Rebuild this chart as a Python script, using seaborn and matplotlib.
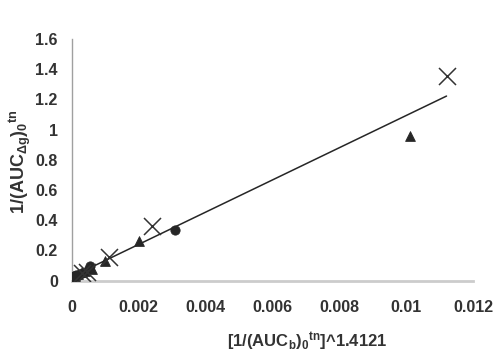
import numpy as np
import pandas as pd
import seaborn as sns
import matplotlib.pyplot as plt

# circles
circ_x = [0.00003, 0.00008, 0.00012, 0.0002, 0.0003, 0.00055, 0.0031]
circ_y = [0.025, 0.03, 0.035, 0.04, 0.05, 0.10, 0.335]
# triangles
tri_x = [0.0001, 0.0002, 0.0003, 0.0004, 0.0006, 0.001, 0.002, 0.0101]
tri_y = [0.03, 0.045, 0.055, 0.065, 0.08, 0.13, 0.265, 0.955]
# crosses
crs_x = [0.0003, 0.00045, 0.0011, 0.0024, 0.0112]
crs_y = [0.05, 0.06, 0.155, 0.36, 1.355]
# trend line
trend_x = [0.00003, 0.0112]
trend_y = [0.03, 1.222]

xticks = [0, 0.002, 0.004, 0.006, 0.008, 0.01, 0.012]
xlabels = ["0", "0.002", "0.004", "0.006", "0.008", "0.01", "0.012"]
yticks = [0, 0.2, 0.4, 0.6, 0.8, 1, 1.2, 1.4, 1.6]
ylabels = ["0", "0.2", "0.4", "0.6", "0.8", "1", "1.2", "1.4", "1.6"]

sns.set_style("white")
plt.rcParams['font.family'] = ['Liberation Sans', 'DejaVu Sans']
plt.rcParams['mathtext.default'] = 'regular'

fig = plt.figure(figsize=(5, 3.54), dpi=100)
ax = fig.add_axes([0.1434, 0.207, 0.8032, 0.683])

dark = "#262626"
trend = pd.DataFrame({"x": trend_x, "y": trend_y})
sns.lineplot(data=trend, x="x", y="y", color=dark, lw=1.1, ax=ax)

sns.scatterplot(x=circ_x, y=circ_y, marker="o", s=45, color=dark,
                edgecolor=dark, ax=ax, zorder=3)
sns.scatterplot(x=tri_x, y=tri_y, marker="^", s=50, color=dark,
                edgecolor=dark, ax=ax, zorder=3)
sns.scatterplot(x=crs_x, y=crs_y, marker="x", s=150, color="#333333",
                linewidth=1.1, ax=ax, zorder=3)

ax.set_xlim(0, 0.012)
ax.set_ylim(0, 1.6)
ax.set_xticks(xticks)
ax.set_xticklabels(xlabels)
ax.set_yticks(yticks)
ax.set_yticklabels(ylabels)
ax.tick_params(axis="both", direction="out", length=4, width=1,
               color="#a0a0a0", labelsize=11.5, labelcolor="#333333")
ax.tick_params(axis="x", pad=10)
ax.tick_params(axis="y", pad=6)
for lab in ax.get_xticklabels() + ax.get_yticklabels():
    lab.set_fontweight("bold")

for s in ["top", "right"]:
    ax.spines[s].set_visible(False)
ax.spines["left"].set_color("#a0a0a0")
ax.spines["left"].set_linewidth(1)
ax.spines["bottom"].set_color("#cccccc")
ax.spines["bottom"].set_linewidth(2)

ax.set_xlabel(r"[1/(AUC$_b$)$_0$$^{tn}$]^1.4121", fontsize=12,
              fontweight="bold", color="#333333")
ax.set_ylabel(r"1/(AUC$_{\Delta g}$)$_0$$^{tn}$", fontsize=13,
              fontweight="bold", color="#333333")
ax.xaxis.set_label_coords(0.586, -0.205)
ax.yaxis.set_label_coords(-0.097, 0.49)

fig.savefig("out.png", dpi=100)
